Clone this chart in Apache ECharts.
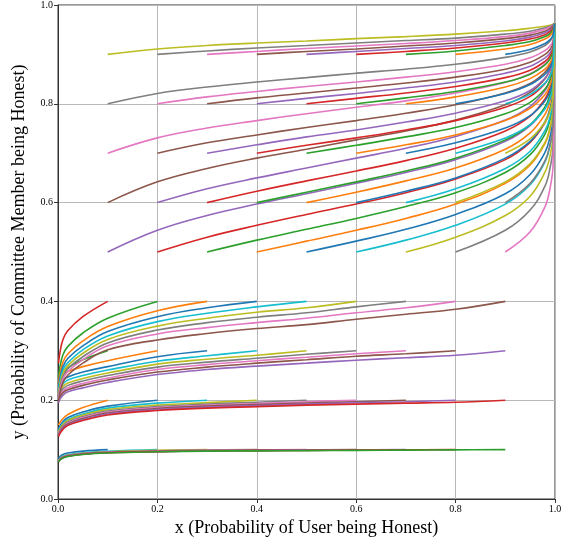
<!DOCTYPE html>
<html><head><meta charset="utf-8">
<script src="https://cdn.jsdelivr.net/npm/echarts@6/dist/echarts.min.js"></script>
<style>html,body{margin:0;padding:0;background:#fff}#c{width:576px;height:546px}</style>
</head><body><div id="c"></div>
<script>
// matplotlib tab10 colour cycle
const palette = ['#1f77b4','#ff7f0e','#2ca02c','#d62728','#9467bd','#8c564b','#e377c2','#7f7f7f','#bcbd22','#17becf'];

// x samples for trajectories that move right (start y >= 0.5)
const upperX = [0.1,0.2,0.3,0.4,0.5,0.6,0.7,0.8,0.9,0.95,0.98,0.99,0.996,0.999];
// x samples for trajectories that move left (start y <= 0.4)
const lowerX = [0.9,0.8,0.7,0.6,0.5,0.4,0.3,0.2,0.1,0.05,0.02,0.01,0.004,0.001];

// each row: one start x0 = 0.1 ... 0.9, values from x0 onward
const y50 = [
  [0.5,0.544,0.574,0.597,0.618,0.639,0.661,0.687,0.724,0.756,0.792,0.817,0.845,0.962],
  [0.5,0.530,0.554,0.576,0.597,0.620,0.648,0.687,0.722,0.762,0.789,0.820,0.962],
  [0.5,0.524,0.546,0.568,0.592,0.620,0.661,0.697,0.739,0.768,0.802,0.962],
  [0.5,0.522,0.544,0.568,0.597,0.639,0.676,0.720,0.750,0.786,0.962],
  [0.5,0.522,0.546,0.576,0.618,0.657,0.702,0.733,0.771,0.962],
  [0.5,0.524,0.554,0.597,0.636,0.683,0.715,0.755,0.962],
  [0.5,0.530,0.574,0.613,0.662,0.695,0.737,0.962],
  [0.5,0.544,0.585,0.634,0.670,0.713,0.962],
  [0.5,0.541,0.592,0.629,0.675,0.962]
];
const y60 = [
  [0.6,0.642,0.669,0.690,0.708,0.727,0.745,0.767,0.798,0.823,0.851,0.870,0.891,0.962],
  [0.6,0.628,0.650,0.670,0.690,0.710,0.734,0.767,0.795,0.827,0.848,0.873,0.962],
  [0.6,0.623,0.644,0.664,0.685,0.710,0.745,0.775,0.810,0.832,0.859,0.962],
  [0.6,0.621,0.642,0.664,0.690,0.727,0.758,0.794,0.818,0.847,0.962],
  [0.6,0.621,0.644,0.670,0.708,0.741,0.779,0.805,0.835,0.962],
  [0.6,0.623,0.650,0.690,0.724,0.764,0.790,0.822,0.962],
  [0.6,0.628,0.669,0.704,0.746,0.774,0.807,0.962],
  [0.6,0.642,0.679,0.722,0.752,0.788,0.962],
  [0.6,0.639,0.685,0.718,0.757,0.962]
];
const y70 = [
  [0.7,0.731,0.751,0.766,0.780,0.793,0.806,0.822,0.843,0.861,0.881,0.894,0.910,0.962],
  [0.7,0.721,0.737,0.752,0.766,0.781,0.798,0.822,0.841,0.864,0.879,0.896,0.962],
  [0.7,0.717,0.733,0.747,0.763,0.781,0.806,0.827,0.852,0.868,0.887,0.962],
  [0.7,0.716,0.731,0.747,0.766,0.793,0.815,0.841,0.858,0.878,0.962],
  [0.7,0.716,0.733,0.752,0.780,0.803,0.830,0.848,0.869,0.962],
  [0.7,0.717,0.737,0.766,0.791,0.819,0.838,0.860,0.962],
  [0.7,0.721,0.751,0.776,0.806,0.826,0.850,0.962],
  [0.7,0.731,0.758,0.790,0.811,0.836,0.962],
  [0.7,0.729,0.763,0.786,0.814,0.962]
];
const y80 = [
  [0.8,0.821,0.834,0.844,0.853,0.862,0.870,0.880,0.894,0.905,0.918,0.927,0.937,0.962],
  [0.8,0.814,0.825,0.835,0.844,0.854,0.865,0.880,0.893,0.908,0.917,0.928,0.962],
  [0.8,0.812,0.822,0.832,0.842,0.854,0.870,0.884,0.900,0.910,0.922,0.962],
  [0.8,0.811,0.821,0.832,0.844,0.862,0.876,0.893,0.903,0.916,0.962],
  [0.8,0.811,0.822,0.835,0.853,0.868,0.886,0.897,0.911,0.962],
  [0.8,0.812,0.825,0.844,0.860,0.879,0.891,0.905,0.962],
  [0.8,0.814,0.834,0.851,0.870,0.883,0.898,0.962],
  [0.8,0.821,0.839,0.860,0.873,0.890,0.962],
  [0.8,0.819,0.842,0.857,0.876,0.962]
];
const y90 = [
  [0.9,0.911,0.918,0.923,0.927,0.932,0.936,0.941,0.948,0.953,0.957,0.959,0.961,0.962],
  [0.9,0.907,0.913,0.918,0.923,0.928,0.933,0.941,0.947,0.954,0.957,0.960,0.962],
  [0.9,0.906,0.912,0.917,0.922,0.928,0.936,0.943,0.951,0.955,0.959,0.962],
  [0.9,0.906,0.911,0.917,0.923,0.932,0.939,0.947,0.952,0.958,0.962],
  [0.9,0.906,0.912,0.918,0.927,0.935,0.944,0.949,0.955,0.962],
  [0.9,0.906,0.913,0.923,0.931,0.940,0.946,0.953,0.962],
  [0.9,0.907,0.918,0.926,0.936,0.942,0.950,0.962],
  [0.9,0.911,0.920,0.931,0.938,0.946,0.962],
  [0.9,0.910,0.922,0.930,0.939,0.962]
];
// leftward trajectories, values from x0 downward along lowerX
const y10 = [
  [0.1,0.097,0.093,0.090,0.086,0.082],
  [0.1,0.0965,0.0935,0.0895,0.0865,0.0825,0.0785],
  [0.1,0.0985,0.0955,0.0925,0.0885,0.0855,0.0815,0.0775],
  [0.1,0.099,0.0975,0.095,0.092,0.088,0.085,0.081,0.077],
  [0.1,0.0995,0.0985,0.097,0.0945,0.0915,0.0875,0.0845,0.0805,0.0765],
  [0.1,0.0995,0.099,0.098,0.0965,0.094,0.091,0.087,0.084,0.080,0.076],
  [0.1,0.0995,0.099,0.098,0.0975,0.096,0.094,0.091,0.087,0.084,0.080,0.076],
  [0.1,0.0995,0.099,0.0985,0.098,0.097,0.096,0.0935,0.0905,0.0865,0.0835,0.0795,0.0755],
  [0.1,0.0995,0.099,0.0985,0.098,0.0975,0.097,0.0955,0.093,0.090,0.086,0.083,0.079,0.075]
];
const y20 = [
  [0.2,0.185,0.171,0.163,0.155,0.150],
  [0.2,0.188,0.176,0.165,0.157,0.148,0.140],
  [0.2,0.194,0.184,0.172,0.161,0.153,0.144,0.137],
  [0.2,0.195,0.190,0.181,0.170,0.159,0.151,0.142,0.135],
  [0.2,0.196,0.192,0.187,0.178,0.167,0.156,0.148,0.139,0.132],
  [0.2,0.197,0.193,0.190,0.185,0.176,0.165,0.154,0.146,0.138,0.131],
  [0.2,0.197,0.194,0.191,0.188,0.183,0.174,0.163,0.152,0.145,0.136,0.129],
  [0.2,0.197,0.195,0.192,0.189,0.186,0.181,0.172,0.161,0.150,0.143,0.134,0.128],
  [0.2,0.196,0.194,0.192,0.190,0.187,0.184,0.179,0.170,0.159,0.149,0.141,0.133,0.126]
];
const y30 = [
  [0.3,0.282,0.266,0.256,0.243,0.232],
  [0.3,0.280,0.268,0.258,0.251,0.242,0.233],
  [0.3,0.288,0.268,0.257,0.247,0.240,0.231,0.222],
  [0.3,0.290,0.279,0.261,0.250,0.241,0.233,0.225,0.216],
  [0.3,0.291,0.283,0.273,0.255,0.244,0.235,0.228,0.219,0.211],
  [0.3,0.293,0.285,0.277,0.267,0.250,0.239,0.230,0.223,0.214,0.206],
  [0.3,0.294,0.287,0.280,0.272,0.262,0.245,0.234,0.225,0.218,0.210,0.202],
  [0.3,0.294,0.289,0.282,0.275,0.267,0.257,0.241,0.230,0.221,0.215,0.206,0.198],
  [0.3,0.291,0.286,0.281,0.275,0.269,0.262,0.252,0.236,0.225,0.217,0.210,0.202,0.194]
];
const y40 = [
  [0.4,0.369,0.341,0.323,0.297,0.275],
  [0.4,0.366,0.336,0.309,0.292,0.268,0.247],
  [0.4,0.381,0.349,0.320,0.294,0.277,0.253,0.234],
  [0.4,0.387,0.369,0.339,0.310,0.285,0.268,0.245,0.226],
  [0.4,0.389,0.376,0.359,0.330,0.302,0.276,0.261,0.238,0.219],
  [0.4,0.387,0.378,0.366,0.350,0.323,0.295,0.270,0.254,0.232,0.213],
  [0.4,0.389,0.377,0.368,0.357,0.342,0.316,0.288,0.264,0.248,0.226,0.208],
  [0.4,0.387,0.377,0.366,0.357,0.347,0.334,0.310,0.282,0.258,0.243,0.221,0.204],
  [0.4,0.384,0.374,0.364,0.353,0.345,0.335,0.322,0.302,0.275,0.251,0.236,0.215,0.198]
];
const xTicks = ['0.0','0.2','0.4','0.6','0.8','1.0'];
const yTicks = ['0.0','0.2','0.4','0.6','0.8','1.0'];

const lowerGroups = [y10, y20, y30, y40];
const upperGroups = [y50, y60, y70, y80, y90];

const series = [];
for (let a = 0; a < 9; a++) {
  for (let b = 0; b < 9; b++) {
    const idx = 9 * a + b;
    let data;
    if (b >= 4) {
      data = upperGroups[b - 4][a].map((v, j) => [upperX[a + j], v]);
    } else {
      data = lowerGroups[b][a].map((v, j) => [lowerX[8 - a + j], v]).reverse();
    }
    series.push({
      type: 'line', data: data, symbol: 'none', showSymbol: false,
      smooth: 0.4, silent: true, z: 2,
      lineStyle: { width: 1.6, color: palette[idx % 10] },
      itemStyle: { color: palette[idx % 10] }
    });
  }
}

const serif = 'Liberation Serif, Times New Roman, serif';
const chart = echarts.init(document.getElementById('c'), null, { renderer: 'canvas' });
chart.setOption({
  animation: false,
  backgroundColor: '#fff',
  grid: { left: 58, right: 21, top: 5, bottom: 47, show: true, borderColor: '#333', borderWidth: 1, backgroundColor: 'transparent' },
  xAxis: {
    type: 'value', min: 0, max: 1, interval: 0.2,
    name: 'x (Probability of User being Honest)', nameLocation: 'middle', nameGap: 20,
    nameTextStyle: { fontFamily: serif, fontSize: 18, color: '#000' },
    axisLine: { show: true, lineStyle: { color: '#333', width: 1 } },
    axisTick: { show: true, length: 4, lineStyle: { color: '#333' } },
    axisLabel: { formatter: (v) => xTicks[Math.round(v / 0.2)], fontFamily: serif, fontSize: 10, color: '#000', margin: 5 },
    splitLine: { show: true, lineStyle: { color: '#b8b8b8', width: 1 } }
  },
  yAxis: {
    type: 'value', min: 0, max: 1, interval: 0.2,
    name: 'y (Probability of Committee Member being Honest)', nameLocation: 'middle', nameGap: 30,
    nameTextStyle: { fontFamily: serif, fontSize: 18, color: '#000' },
    axisLine: { show: true, lineStyle: { color: '#333', width: 1 } },
    axisTick: { show: true, length: 4, lineStyle: { color: '#333' } },
    axisLabel: { formatter: (v) => yTicks[Math.round(v / 0.2)], fontFamily: serif, fontSize: 10, color: '#000', margin: 5 },
    splitLine: { show: true, lineStyle: { color: '#b8b8b8', width: 1 } }
  },
  series: series
});
</script></body></html>
